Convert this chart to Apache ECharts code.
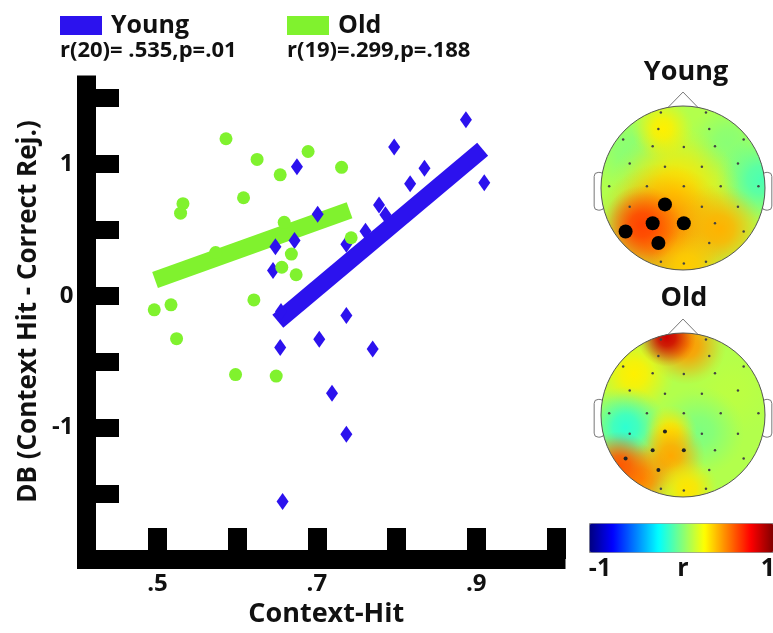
<!DOCTYPE html>
<html><head><meta charset="utf-8">
<script src="https://cdn.jsdelivr.net/npm/echarts@6/dist/echarts.min.js"></script>
<style>html,body{margin:0;padding:0;background:#fff}#c{width:773px;height:633px}</style>
</head><body><div id="c"></div>
<script>
// ---------- main scatter data ----------
const youngX = [0.887,0.797,0.675,0.835,0.817,0.910,0.778,0.786,0.701,0.761,0.737,0.648,0.672,0.645,0.655,0.737,0.703,0.654,0.770,0.719,0.737,0.657];
const youngY = [1.336,1.129,0.980,0.968,0.851,0.858,0.689,0.614,0.619,0.490,0.390,0.371,0.420,0.192,-0.119,-0.151,-0.331,-0.393,-0.405,-0.741,-1.052,-1.562];
const oldX = [0.586,0.625,0.689,0.654,0.731,0.532,0.529,0.608,0.659,0.573,0.668,0.656,0.674,0.743,0.621,0.496,0.517,0.524,0.598,0.649];
const oldY = [1.192,1.035,1.095,0.918,0.975,0.699,0.627,0.744,0.557,0.328,0.316,0.216,0.159,0.440,-0.032,-0.107,-0.069,-0.326,-0.599,-0.610];
const youngFitX = [0.651, 0.908];
const youngFitY = [-0.194, 1.112];
const oldFitX = [0.497, 0.741];
const oldFitY = [0.119, 0.649];
const xTicks = [0.5,0.6,0.7,0.8,0.9,1.0];
const xTickLabels = [0.5,0.7,0.9];
const yTicks = [-1.5,-1,-0.5,0,0.5,1,1.5];
const yTickLabels = [-1,0,1];
const groupNames = ['Young','Old'];
const statTexts = ['r(20)= .535,p=.01','r(19)=.299,p=.188'];
const xName = 'Context-Hit';
const yName = 'DB (Context Hit - Correct Rej.)';
// ---------- topography data (head units, radius 1) ----------
const electrodeNames = ['Fp1','Fp2','AF3','AF4','F7','F3','Fz','F4','F8','FC5','FC1','FC2','FC6','T7','C3','Cz','C4','T8','CP5','CP1','CP2','CP6','P7','P3','Pz','P4','P8','PO3','PO4','O1','Oz','O2'];
const electrodeX = [-0.27,0.28,-0.30,0.32,-0.73,-0.37,0.01,0.39,0.74,-0.65,-0.22,0.23,0.67,-0.90,-0.44,0.01,0.46,0.92,-0.65,-0.22,0.23,0.67,-0.70,-0.37,0.01,0.39,0.74,-0.30,0.32,-0.27,0.01,0.28];
const electrodeY = [0.92,0.92,0.72,0.72,0.59,0.51,0.50,0.51,0.59,0.30,0.26,0.26,0.30,0.02,0.02,0.02,0.02,0.02,-0.23,-0.20,-0.23,-0.23,-0.53,-0.43,-0.43,-0.43,-0.53,-0.67,-0.67,-0.90,-0.92,-0.90];
const sigElectrodes = ['CP1','P3','Pz','P7','PO3'];
// r-value patches: centre x, centre y, spread, r
const youngPatchX = [0, -0.65, 0.55, -0.25, 0.95, -0.10, -0.25, 0.45, 0.05, -0.50];
const youngPatchY = [0, 0.45, 0.55, 0.72, 0.10, -0.05, -0.55, -0.50, -0.95, -0.45];
const youngPatchS = [1, 0.55, 0.50, 0.38, 0.55, 0.80, 0.85, 0.55, 0.45, 0.48];
const youngPatchV = [0.10, 0.02, 0.02, 0.28, -0.10, 0.30, 0.48, 0.40, 0.35, 0.62];
const oldPatchX = [0, -0.60, 0.60, 0.05, -0.20, -0.70, 0.20, -0.15, -0.15, -0.50, 0.05, -0.78];
const oldPatchY = [0, 0.50, 0.30, 0.85, 0.95, -0.15, -0.20, -0.20, -0.50, -0.78, -0.90, -0.62];
const oldPatchS = [1, 0.50, 0.55, 0.48, 0.36, 0.50, 0.55, 0.32, 0.42, 0.42, 0.38, 0.42];
const oldPatchV = [0.10, 0.28, 0.12, 0.45, 0.85, -0.16, 0.00, 0.30, 0.42, 0.48, 0.30, 0.58];
const colorbarLabels = ['-1','r','1'];

const BLUE = '#2c12ee', GREEN = '#80f22e';
const FONT = '"Open Sans", "DejaVu Sans", sans-serif';

const chart = echarts.init(document.getElementById('c'));
const zip = (a, b) => a.map((v, i) => [v, b[i]]);
const zip4 = (a, b, c, d) => a.map((v, i) => [v, b[i], c[i], d[i]]);
const fmtTick = v => String(v).replace(/^(-?)0\./, '$1.');

function headGeom(api) {
  const c = api.coord([0, 0]);
  const e = api.coord([1, 0]);
  return { cx: c[0], cy: c[1], R: e[0] - c[0] };
}
function patchRender(params, api) {
  const g = headGeom(api);
  const col = api.visual('color');
  if (params.dataIndex === 0) {
    return { type: 'circle', shape: { cx: g.cx, cy: g.cy, r: g.R }, style: { fill: col } };
  }
  const p = api.coord([api.value(0), api.value(1)]);
  const r = api.value(2) * g.R;
  const a = (k) => echarts.color.modifyAlpha(col, k);
  return {
    type: 'circle',
    shape: { cx: p[0], cy: p[1], r: r },
    style: { fill: { type: 'radial', x: 0.5, y: 0.5, r: 0.5, colorStops: [
      { offset: 0, color: a(1) },
      { offset: 0.3, color: a(0.85) },
      { offset: 0.6, color: a(0.45) },
      { offset: 0.85, color: a(0.12) },
      { offset: 1, color: a(0) }
    ] } },
    clipPath: { type: 'circle', shape: { cx: g.cx, cy: g.cy, r: g.R } }
  };
}
function earRender(params, api) {
  const g = headGeom(api);
  const w = 0.12 * g.R, h = 0.46 * g.R, top = g.cy - 0.19 * g.R;
  return { type: 'group', children: [
    { type: 'rect', shape: { x: g.cx - g.R - w + 3, y: top, width: w, height: h, r: 4 }, style: { fill: '#fff', stroke: '#777', lineWidth: 1 } },
    { type: 'rect', shape: { x: g.cx + g.R - 3, y: top, width: w, height: h, r: 4 }, style: { fill: '#fff', stroke: '#777', lineWidth: 1 } }
  ] };
}
function outlineRender(params, api) {
  const g = headGeom(api);
  return { type: 'group', children: [
    { type: 'circle', shape: { cx: g.cx, cy: g.cy, r: g.R }, style: { fill: null, stroke: '#555', lineWidth: 1 } },
    { type: 'polyline', shape: { points: [[g.cx - 0.18 * g.R, g.cy - 0.985 * g.R], [g.cx, g.cy - 1.17 * g.R], [g.cx + 0.18 * g.R, g.cy - 0.985 * g.R]] }, style: { fill: null, stroke: '#777', lineWidth: 1 } }
  ] };
}

const sigIdx = sigElectrodes.map(n => electrodeNames.indexOf(n));
const elecData = zip(electrodeX, electrodeY);
const sigData = sigIdx.map(i => elecData[i]);

const hiddenAxis = { show: false, min: -1, max: 1 };

const option = {
  backgroundColor: '#fff',
  animation: false,
  textStyle: { fontFamily: FONT },
  grid: [
    { left: 86.5, right: 217, top: 85, bottom: 65.5 },
    { left: 601, top: 106, width: 164, height: 164 },
    { left: 601, top: 333, width: 164, height: 164 }
  ],
  xAxis: [
    {
      type: 'value', gridIndex: 0, min: 0.411, max: 1.0,
      name: xName, nameLocation: 'middle', nameGap: 32,
      nameTextStyle: { fontFamily: FONT, fontWeight: 'bold', fontSize: 27, color: '#111', padding: [0, 0, 0, 10] },
      axisLine: { onZero: false, lineStyle: { color: '#000', width: 19, cap: 'square' } },
      axisTick: { show: true, inside: true, length: 31, customValues: xTicks, lineStyle: { color: '#000', width: 19 } },
      axisLabel: { customValues: xTickLabels, margin: 13, formatter: fmtTick, fontFamily: FONT, fontWeight: 'bold', fontSize: 24, color: '#111' },
      splitLine: { show: false }
    },
    Object.assign({ gridIndex: 1 }, hiddenAxis),
    Object.assign({ gridIndex: 2 }, hiddenAxis)
  ],
  yAxis: [
    {
      type: 'value', gridIndex: 0, min: -2, max: 1.6,
      name: yName, nameLocation: 'middle', nameGap: 45, nameRotate: 90,
      nameTextStyle: { fontFamily: FONT, fontWeight: 'bold', fontSize: 26, color: '#111', padding: [0, 0, 0, 21] },
      axisLine: { onZero: false, lineStyle: { color: '#000', width: 19, cap: 'square' } },
      axisTick: { show: true, inside: true, length: 32.5, customValues: yTicks, lineStyle: { color: '#000', width: 18 } },
      axisLabel: { customValues: yTickLabels, margin: 13, formatter: fmtTick, fontFamily: FONT, fontWeight: 'bold', fontSize: 24, color: '#111' },
      splitLine: { show: false }
    },
    Object.assign({ gridIndex: 1 }, hiddenAxis),
    Object.assign({ gridIndex: 2 }, hiddenAxis)
  ],
  legend: [
    { left: 60, top: 13, padding: 0, data: [{ name: groupNames[0], icon: 'rect' }], itemWidth: 42, itemHeight: 19, selectedMode: false,
      itemStyle: { opacity: 1 },
      textStyle: { fontFamily: FONT, fontWeight: 'bold', fontSize: 25, color: '#111', padding: [0, 0, 0, 4] } },
    { left: 287, top: 13, padding: 0, data: [{ name: groupNames[1], icon: 'rect' }], itemWidth: 42, itemHeight: 19, selectedMode: false,
      itemStyle: { opacity: 1 },
      textStyle: { fontFamily: FONT, fontWeight: 'bold', fontSize: 25, color: '#111', padding: [0, 0, 0, 4] } }
  ],
  visualMap: {
    type: 'continuous', min: -1, max: 1, orient: 'horizontal', dimension: 3,
    left: 589, top: 523, itemWidth: 29, itemHeight: 184, padding: 0,
    calculable: false, realtime: false, hoverLink: false, text: null, showLabel: false,
    borderColor: '#888', borderWidth: 1,
    seriesIndex: [6, 7],
    inRange: { color: ['#00007f', '#0000ff', '#007fff', '#00ffff', '#7fff7f', '#ffff00', '#ff7f00', '#ff0000', '#7f0000'] }
  },
  graphic: [
    { type: 'text', x: 60, y: 51, style: { text: statTexts[0], font: 'bold 22px ' + FONT, fill: '#111', textVerticalAlign: 'middle' } },
    { type: 'text', x: 287, y: 51, style: { text: statTexts[1], font: 'bold 22px ' + FONT, fill: '#111', textVerticalAlign: 'middle' } },
    { type: 'text', x: 686, y: 72, style: { text: groupNames[0], font: 'bold 27px ' + FONT, fill: '#111', textAlign: 'center', textVerticalAlign: 'middle' } },
    { type: 'text', x: 684, y: 298, style: { text: groupNames[1], font: 'bold 27px ' + FONT, fill: '#111', textAlign: 'center', textVerticalAlign: 'middle' } },
    { type: 'text', x: 600, y: 569, style: { text: colorbarLabels[0], font: 'bold 25px ' + FONT, fill: '#111', textAlign: 'center', textVerticalAlign: 'middle' } },
    { type: 'text', x: 683, y: 569, style: { text: colorbarLabels[1], font: 'bold 25px ' + FONT, fill: '#111', textAlign: 'center', textVerticalAlign: 'middle' } },
    { type: 'text', x: 768, y: 569, style: { text: colorbarLabels[2], font: 'bold 25px ' + FONT, fill: '#111', textAlign: 'center', textVerticalAlign: 'middle' } }
  ],
  series: [
    { name: groupNames[0], type: 'scatter', xAxisIndex: 0, yAxisIndex: 0, symbol: 'diamond', symbolSize: [12, 17], itemStyle: { color: BLUE, opacity: 1 }, data: zip(youngX, youngY), z: 2 },
    { name: groupNames[0], type: 'line', xAxisIndex: 0, yAxisIndex: 0, showSymbol: false, symbol: 'none', lineStyle: { color: BLUE, width: 17, cap: 'butt' }, itemStyle: { color: BLUE }, data: zip(youngFitX, youngFitY), z: 2 },
    { name: groupNames[1], type: 'line', xAxisIndex: 0, yAxisIndex: 0, showSymbol: false, symbol: 'none', lineStyle: { color: GREEN, width: 17, cap: 'butt' }, itemStyle: { color: GREEN }, data: zip(oldFitX, oldFitY), z: 2 },
    { name: groupNames[1], type: 'scatter', xAxisIndex: 0, yAxisIndex: 0, symbol: 'circle', symbolSize: 13, itemStyle: { color: GREEN, opacity: 1 }, data: zip(oldX, oldY), z: 2 },
    // ears (under the maps)
    { type: 'custom', name: 'earsY', xAxisIndex: 1, yAxisIndex: 1, renderItem: earRender, data: [[0, 0]], z: 1, silent: true },
    { type: 'custom', name: 'earsO', xAxisIndex: 2, yAxisIndex: 2, renderItem: earRender, data: [[0, 0]], z: 1, silent: true },
    // topographic r maps
    { type: 'custom', name: 'mapYoung', xAxisIndex: 1, yAxisIndex: 1, renderItem: patchRender, encode: { x: 0, y: 1 }, dimensions: ['x', 'y', 's', 'r'], data: zip4(youngPatchX, youngPatchY, youngPatchS, youngPatchV), z: 2, silent: true },
    { type: 'custom', name: 'mapOld', xAxisIndex: 2, yAxisIndex: 2, renderItem: patchRender, encode: { x: 0, y: 1 }, dimensions: ['x', 'y', 's', 'r'], data: zip4(oldPatchX, oldPatchY, oldPatchS, oldPatchV), z: 2, silent: true },
    // electrodes
    { type: 'scatter', xAxisIndex: 1, yAxisIndex: 1, symbolSize: 2.5, itemStyle: { color: '#444', opacity: 1 }, data: elecData, z: 3, silent: true },
    { type: 'scatter', xAxisIndex: 2, yAxisIndex: 2, symbolSize: 2.5, itemStyle: { color: '#444', opacity: 1 }, data: elecData, z: 3, silent: true },
    { type: 'scatter', xAxisIndex: 1, yAxisIndex: 1, symbolSize: 14, itemStyle: { color: '#000', opacity: 1 }, data: sigData, z: 4, silent: true },
    { type: 'scatter', xAxisIndex: 2, yAxisIndex: 2, symbolSize: 4, itemStyle: { color: '#222', opacity: 1 }, data: sigData, z: 4, silent: true },
    // head outlines
    { type: 'custom', name: 'headY', xAxisIndex: 1, yAxisIndex: 1, renderItem: outlineRender, data: [[0, 0]], z: 5, silent: true },
    { type: 'custom', name: 'headO', xAxisIndex: 2, yAxisIndex: 2, renderItem: outlineRender, data: [[0, 0]], z: 5, silent: true }
  ]
};
chart.setOption(option);
</script></body></html>
